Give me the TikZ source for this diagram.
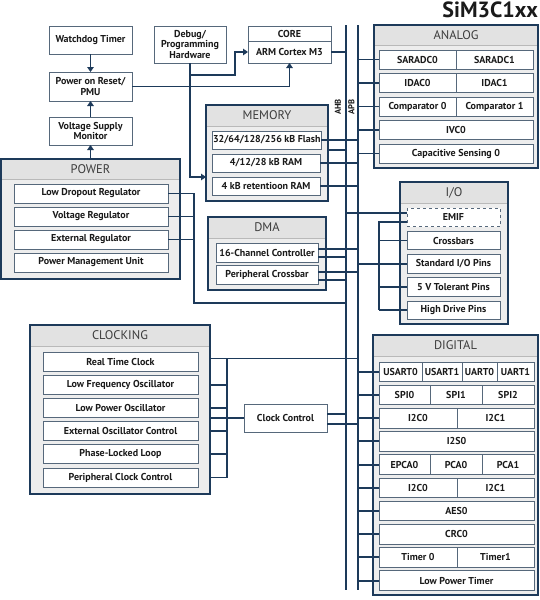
\documentclass[tikz,border=0pt]{standalone}
\usepackage{fontspec}
\setmainfont{PT Sans}
\usetikzlibrary{arrows.meta,calc}
\definecolor{navy}{HTML}{1D3A5A}
\definecolor{ibord}{HTML}{56687B}
\definecolor{bodyc}{HTML}{EDEDED}
\definecolor{hdrc}{HTML}{E2E2E2}
\definecolor{txt}{HTML}{1A1A1A}
\newcommand\blk[6]{\node[#1, minimum width=#4pt, minimum height=#5pt, anchor=north west] (#2) at (#3) {#6};}
\newcommand\grp[6]{%
  \node[ob, minimum width=#3pt, minimum height=#4pt, anchor=north west] (#1) at (#2) {};
  \node[hdr, minimum width=#3pt, minimum height=#5pt, anchor=north west] (#1h) at (#2) {#6};
  \draw[sepl] (#1h.south west) -- (#1h.south east);
  \draw[obord] (#1.north west) rectangle (#1.south east);}
\begin{document}
\begin{tikzpicture}[x=1pt,y=-1pt,
  conn/.style={draw=navy, line width=1.9pt},
  arr/.style={conn, -{Triangle[length=5pt,width=6.5pt]}},
  ib/.style={draw=ibord, line width=0.8pt, fill=white, inner sep=1pt, outer sep=0pt,
     font=\bfseries\fontsize{10}{10.5}\selectfont, text=txt, align=center},
  sb/.style={ib, line width=1pt},
  ob/.style={fill=bodyc, outer sep=0pt, inner sep=0pt, draw=none},
  obord/.style={draw=navy, line width=2.3pt},
  hdr/.style={fill=hdrc, outer sep=0pt, inner sep=0pt, draw=none, font=\fontsize{12.5}{14}\selectfont, text=txt!85},
  sepl/.style={draw=gray!55, line width=0.6pt},
  buslbl/.style={rotate=90, font=\bfseries\fontsize{8.5}{10}\selectfont, inner sep=0pt, text=txt}
]
\useasboundingbox[fill=white] (0,0) rectangle (540,600);

% title
\node[anchor=north east, font=\bfseries\fontsize{22}{24}\selectfont, text=txt, inner sep=0pt] (title) at (538,2) {SiM3C1xx};

% standalone blocks
\blk{sb}{wd}{49,26}{83}{28}{Watchdog Timer}
\blk{sb}{por}{49,72}{83}{29}{Power on Reset/\\PMU}
\blk{sb}{vsm}{49,117}{83}{28}{Voltage Supply\\Monitor}
\blk{sb}{dbg}{154,26}{72}{37}{Debug/\\Programming\\Hardware}
\blk{sb}{coreh}{248,26}{83}{15}{CORE}
\blk{sb}{arm}{248,41}{83}{22}{ARM Cortex M3}

% groups
\grp{power}{1,159}{179}{120}{20}{POWER}
\grp{mem}{206,105}{122}{96}{21}{MEMORY}
\grp{dma}{208,217}{118}{73}{21}{DMA}
\grp{ana}{374,25}{164}{143}{20}{ANALOG}
\grp{io}{400,182}{108}{142}{21}{I/O}
\grp{dig}{373,335}{165}{260}{21}{DIGITAL}
\grp{clk}{30,325}{180}{169}{21}{CLOCKING}

% power rows
\blk{ib}{ldo}{14,184}{154}{19}{Low Dropout Regulator}
\blk{ib}{vreg}{14,207}{154}{19}{Voltage Regulator}
\blk{ib}{ereg}{14,230}{154}{19}{External Regulator}
\blk{ib}{pmu}{14,253}{154}{19}{Power Management Unit}

% memory rows
\blk{ib}{flash}{212,131}{108}{18}{32/64/128/256 kB Flash}
\blk{ib}{ram}{212,154}{108}{18}{4/12/28 kB RAM}
\blk{ib}{ret}{212,177}{108}{18}{4 kB retentioon RAM}

% dma rows
\blk{ib}{dch}{216,243}{102}{19}{16-Channel Controller}
\blk{ib}{pxb}{216,265}{102}{19}{Peripheral Crossbar}

% analog rows
\blk{ib}{sar0}{379,50}{77}{19}{SARADC0}
\blk{ib}{sar1}{456,50}{77}{19}{SARADC1}
\blk{ib}{idac0}{379,73.5}{77}{19}{IDAC0}
\blk{ib}{idac1}{456,73.5}{77}{19}{IDAC1}
\blk{ib}{cmp0}{379,97}{77}{19}{Comparator 0}
\blk{ib}{cmp1}{456,97}{77}{19}{Comparator 1}
\blk{ib}{ivc}{379,120.5}{154}{19}{IVC0}
\blk{ib}{cap}{379,144}{154}{19}{Capacitive Sensing 0}

% io rows
\blk{ib, dashed}{emif}{407,208}{93}{18.5}{EMIF}
\blk{ib}{xbar}{407,231.25}{93}{18.5}{Crossbars}
\blk{ib}{std}{407,254.5}{93}{18.5}{Standard I/O Pins}
\blk{ib}{v5}{407,277.75}{93}{18.5}{5 V Tolerant Pins}
\blk{ib}{hdrv}{407,301}{93}{18.5}{High Drive Pins}

% digital rows
\blk{ib}{usart0}{379,362}{43}{19.5}{USART0}
\blk{ib}{usart1}{422,362}{40}{19.5}{USART1}
\blk{ib}{uart0}{462,362}{35}{19.5}{UART0}
\blk{ib}{uart1}{497,362}{37}{19.5}{UART1}
\blk{ib}{spi0}{379,385.2}{51}{19.5}{SPI0}
\blk{ib}{spi1}{430,385.2}{52}{19.5}{SPI1}
\blk{ib}{spi2}{482,385.2}{52}{19.5}{SPI2}
\blk{ib}{i2ca}{379,408.4}{78}{19.5}{I2C0}
\blk{ib}{i2cb1}{457,408.4}{77}{19.5}{I2C1}
\blk{ib}{i2s}{379,431.6}{155}{19.5}{I2S0}
\blk{ib}{epca}{379,454.8}{51}{19.5}{EPCA0}
\blk{ib}{pca0}{430,454.8}{52}{19.5}{PCA0}
\blk{ib}{pca1}{482,454.8}{52}{19.5}{PCA1}
\blk{ib}{i2cb}{379,478}{78}{19.5}{I2C0}
\blk{ib}{i2cc1}{457,478}{77}{19.5}{I2C1}
\blk{ib}{aes}{379,501.2}{155}{19.5}{AES0}
\blk{ib}{crc}{379,524.4}{155}{19.5}{CRC0}
\blk{ib}{tmr0}{379,547.6}{78}{19.5}{Timer 0}
\blk{ib}{tmr1}{457,547.6}{77}{19.5}{Timer1}
\blk{ib}{lpt}{379,570.8}{155}{19.5}{Low Power Timer}

% clocking rows
\blk{ib}{rtc}{43,352}{155}{19}{Real Time Clock}
\blk{ib}{lfo}{43,375.2}{155}{19}{Low Frequency Oscillator}
\blk{ib}{lpo}{43,398.4}{155}{19}{Low Power Oscillator}
\blk{ib}{eoc}{43,421.6}{155}{19}{External Oscillator Control}
\blk{ib}{pll}{43,444.8}{155}{19}{Phase-Locked Loop}
\blk{ib}{pcc}{43,468}{155}{19}{Peripheral Clock Control}

\blk{sb}{cc}{244,404}{83}{28}{Clock Control}

% buses
\coordinate (ahbT) at (346,25);
\coordinate (ahbB) at (346,590);
\coordinate (apbT) at (358,25);
\coordinate (apbB) at (358,590);
\draw[conn] (ahbT) -- (ahbB);
\draw[conn] (apbT) -- (apbB);
\node[buslbl] (ahbl) at (338,107) {AHB};
\node[buslbl] (apbl) at (351.5,107) {APB};

% top-left arrows
\draw[arr] (wd.south) -- (por.north);
\draw[arr] (vsm.north) -- (por.south);
\draw[arr] (power.north) -- (vsm.south);
\coordinate (dj) at (235,75);
\draw[arr] (dbg.south) |- (dj) |- (arm.west);
\path (mem.west) ++(0,24) coordinate (mj);
\draw[arr] (dbg.south) |- (mj);
\draw[arr] (por.east) -| (arm.south);
\draw[conn] (arm.east) -- (arm.east -| ahbT);

% analog
\foreach \n in {sar0,idac0,cmp0,ivc,cap} \draw[conn] (\n.west -| apbT) -- (\n.west);

% memory
\path (flash.east) ++(0,10) coordinate (f2);
\draw[conn] (flash.east) -- (flash.east -| apbT);
\draw[conn] (f2 -| mem.east) -- (f2 -| ahbT);
\draw[conn] (ram.east) -- (ram.east -| apbT);
\draw[conn] (ret.east) -- (ret.east -| apbT);

% dma
\path (dch.east) ++(0,-3.5) coordinate (d1) ++(0,8) coordinate (d2);
\path (pxb.east) ++(0,-2.5) coordinate (d3) ++(0,8) coordinate (d4);
\draw[conn] (d1) -- (d1 -| apbT);
\draw[conn] (d2) -- (d2 -| ahbT);
\draw[conn] (d3) -- (d3 -| apbT);
\draw[conn] (d4) -- (d4 -| ahbT);

% power
\coordinate (pj) at (194,303);
\draw[conn] (ldo.east) -| (pj) -- (pj -| ahbT);
\draw[conn] (vreg.east) -- (vreg.east -| pj);
\draw[conn] (ereg.east) -- (ereg.east -| pj);

% io
\path (emif.west) ++(0,-4) coordinate (e1) ++(0,9) coordinate (e2);
\path (emif.west) ++(-28,0) coordinate (iov);
\draw[conn] (e1 -| ahbT) -- (e1);
\draw[conn] (e2) -- (e2 -| iov) -- (hdrv.west -| iov);
\foreach \n in {xbar,v5,hdrv} \draw[conn] (\n.west -| iov) -- (\n.west);
\draw[conn] (std.west -| apbT) -- (std.west);

% clocking
\path (rtc.east) ++(0,-3) coordinate (c0);
\path (clk.east) ++(17,0) coordinate (cvx);
\draw[conn] (c0 -| clk.east) -- (c0 -| apbT);
\draw[conn] (c0 -| cvx) -- (pcc.east -| cvx);
\foreach \n in {lfo,lpo,eoc,pll,pcc} \draw[conn] (\n.east -| clk.east) -- (\n.east -| cvx);
\draw[conn] (cc.west) -- (cc.west -| clk.east);
\path (cc.east) ++(0,-4) coordinate (k1) ++(0,10) coordinate (k2);
\draw[conn] (k1) -- (k1 -| ahbT);
\draw[conn] (k2) -- (k2 -| apbT);

% digital
\foreach \n in {usart0,spi0,i2ca,i2s,epca,i2cb,aes,crc,tmr0,lpt} \draw[conn] (\n.west -| apbT) -- (\n.west);
\end{tikzpicture}
\end{document}
